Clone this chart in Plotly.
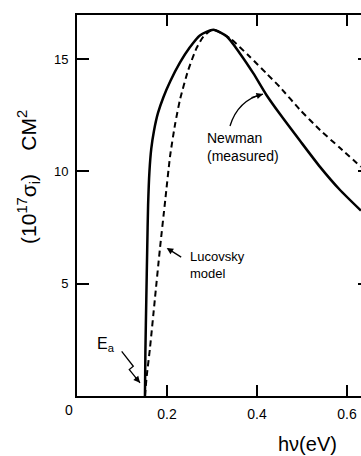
import plotly.graph_objects as go

# Newman (measured) - solid
newman_x = [0.151, 0.152, 0.154, 0.156, 0.158, 0.161, 0.165, 0.171, 0.180, 0.192, 0.207,
            0.229, 0.250, 0.273, 0.303, 0.333, 0.362, 0.392, 0.421, 0.451, 0.496,
            0.540, 0.584, 0.631]
newman_y = [0.0, 2.0, 4.3, 6.5, 8.5, 10.0, 11.0, 11.8, 12.6, 13.3, 14.0,
            14.85, 15.5, 16.05, 16.3, 16.0, 15.25, 14.36, 13.4, 12.55, 11.35,
            10.2, 9.18, 8.25]

# Lucovsky model - dashed
lucovsky_x = [0.151, 0.155, 0.162, 0.173, 0.184, 0.196, 0.207, 0.218, 0.229, 0.247,
              0.266, 0.281, 0.296, 0.305, 0.340, 0.384, 0.421, 0.451, 0.496, 0.540,
              0.584, 0.631]
lucovsky_y = [0.0, 0.9, 2.1, 4.3, 6.5, 8.7, 10.7, 12.1, 13.2, 14.5,
              15.5, 16.0, 16.25, 16.3, 15.92, 15.1, 14.36, 13.75, 12.73, 11.84,
              11.05, 10.2]

x_tickvals = [0.2, 0.4, 0.6]
x_ticktext = ["0.2", "0.4", "0.6"]
y_tickvals = [5, 10, 15]
y_ticktext = ["5", "10", "15"]

FONT = "Liberation Sans, Arial, sans-serif"

fig = go.Figure()
fig.add_trace(go.Scatter(x=newman_x, y=newman_y, mode="lines",
                         line=dict(color="black", width=2.5, shape="spline", smoothing=0.6),
                         showlegend=False, hoverinfo="skip"))
fig.add_trace(go.Scatter(x=lucovsky_x, y=lucovsky_y, mode="lines",
                         line=dict(color="black", width=2, dash="6px,4px", shape="spline", smoothing=0.6),
                         showlegend=False, hoverinfo="skip"))
# invisible trace on right axis to render its ticks
fig.add_trace(go.Scatter(x=[0.3], y=[5], yaxis="y2", mode="markers",
                         marker=dict(opacity=0), showlegend=False, hoverinfo="skip"))

fig.update_layout(
    width=361, height=456,
    margin=dict(l=77, r=0, t=15, b=60),
    paper_bgcolor="white", plot_bgcolor="white",
    font=dict(family=FONT, color="black", size=13),
    xaxis=dict(range=[0, 0.6311], tickvals=x_tickvals, ticktext=x_ticktext,
               ticks="inside", ticklen=11, tickwidth=2, tickcolor="black",
               showline=True, linecolor="black", linewidth=2, mirror="ticks",
               showgrid=False, zeroline=False, tickfont=dict(size=14),
               ticklabelstandoff=4),
    yaxis=dict(range=[0, 16.96], tickvals=y_tickvals, ticktext=y_ticktext,
               ticks="inside", ticklen=12, tickwidth=2, tickcolor="black",
               showline=True, linecolor="black", linewidth=2,
               showgrid=False, zeroline=False, tickfont=dict(size=13),
               ticklabelstandoff=4),
    yaxis2=dict(range=[0, 16.96], overlaying="y", side="right", tickvals=y_tickvals,
                ticks="inside", ticklen=3, tickwidth=2, tickcolor="black",
                showticklabels=False, showline=False, showgrid=False, zeroline=False),
)

# Newman curved arrow
fig.add_shape(type="path", xref="x", yref="y",
              path="M 0.340 12.02 Q 0.3578 13.18 0.4133 13.44",
              line=dict(color="black", width=1.3))
fig.add_annotation(x=0.4133, y=13.44, xref="x", yref="y", text="", showarrow=True,
                   ax=-13, ay=4, arrowhead=2, arrowsize=1, arrowwidth=1.3, arrowcolor="black")
fig.add_annotation(x=0.2844, y=11.09, xref="x", yref="y", text="Newman<br>(measured)",
                   showarrow=False, xanchor="left", yanchor="middle", align="left",
                   font=dict(size=14))

# Lucovsky arrow
fig.add_annotation(x=0.1993, y=6.587, xref="x", yref="y", text="", showarrow=True,
                   ax=16, ay=10, arrowhead=2, arrowsize=1, arrowwidth=1.3, arrowcolor="black")
fig.add_annotation(x=0.2467, y=5.82, xref="x", yref="y", text="Lucovsky<br>model",
                   showarrow=False, xanchor="left", yanchor="middle", align="left",
                   font=dict(size=13))

# E_a zig-zag arrow
fig.add_shape(type="path", xref="x", yref="y",
              path="M 0.0993 1.99 L 0.1251 1.324 L 0.1162 1.178 L 0.140 0.587",
              line=dict(color="black", width=1.3))
fig.add_annotation(x=0.140, y=0.587, xref="x", yref="y", text="", showarrow=True,
                   ax=-6, ay=-7, arrowhead=2, arrowsize=1, arrowwidth=1.3, arrowcolor="black")
fig.add_annotation(x=0.0644, y=2.29, xref="x", yref="y", text="E<sub>a</sub>",
                   showarrow=False, xanchor="center", yanchor="middle", font=dict(size=16))

# "0" origin label
fig.add_annotation(x=0, y=0, xref="x", yref="paper", text="0", showarrow=False,
                   xshift=-8, yshift=-14, xanchor="center", yanchor="middle",
                   font=dict(size=14))

# Axis titles
fig.add_annotation(x=-0.169, y=0.575, xref="paper", yref="paper",
                   text="(10<sup>17</sup>σ<sub>i</sub>)    CM<sup>2</sup>",
                   textangle=-90, showarrow=False, xanchor="center", yanchor="middle",
                   font=dict(size=21))
fig.add_annotation(x=0.813, y=-0.126, xref="paper", yref="paper",
                   text="hν(eV)", showarrow=False, xanchor="center", yanchor="middle",
                   font=dict(size=20))

fig.write_html("out.html", config={"displayModeBar": False},
               post_script="document.body.style.margin='0';document.body.style.overflow='hidden';")
